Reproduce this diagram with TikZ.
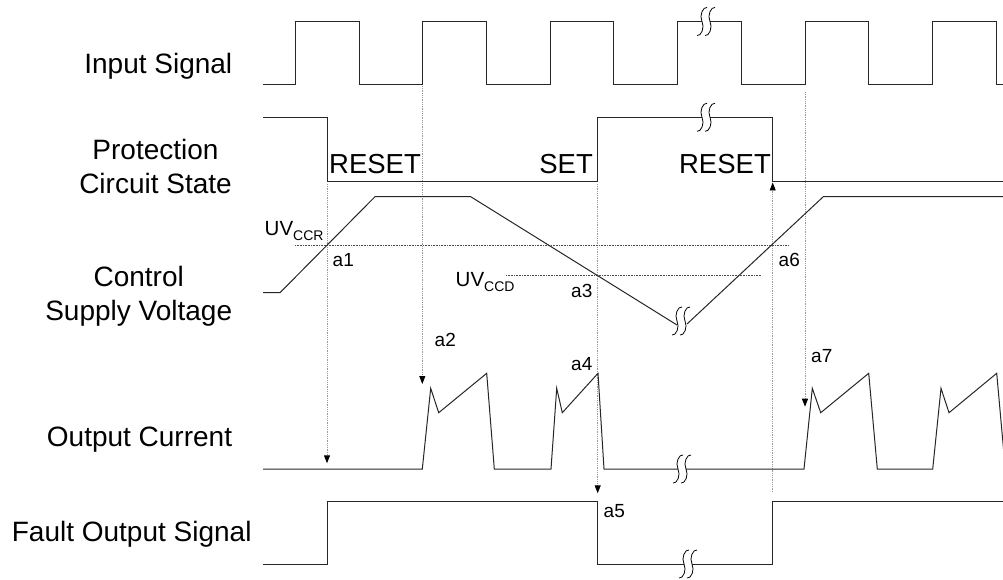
\documentclass[tikz,border=0pt]{standalone}
\usepackage{fontspec}
\setmainfont{Liberation Sans}
\usetikzlibrary{arrows.meta}
\begin{document}
\begin{tikzpicture}[x=1pt,y=-1pt,
  sig/.style={line width=1pt,draw=black!85,line join=miter},
  guide/.style={draw=black!40,line width=0.9pt,dash pattern=on 0.9pt off 0.9pt},
  thr/.style={draw=black!70,line width=0.8pt,dash pattern=on 0.8pt off 0.8pt},
  garrow/.style={guide,-{Triangle[length=8pt,width=6pt,color=black]}},
  big/.style={inner sep=0pt,font=\fontsize{28}{34}\selectfont},
  state/.style={inner sep=0pt,font=\fontsize{27.5}{34}\selectfont},
  small/.style={inner sep=0pt,font=\fontsize{19}{22}\selectfont},
  uvfont/.style={inner sep=0pt,font=\fontsize{20.5}{22}\selectfont},
  brk/.pic={
    \fill[white] (-4,-2.5) rectangle (4,2.5);
    \draw[line width=0.8pt,black] (1,-14) .. controls (-3,-15) and (-7,-6) .. (-4,0) .. controls (-1,6) and (-5,15) .. (-9,14);
    \draw[line width=0.8pt,black] (9,-14) .. controls (5,-15) and (1,-6) .. (4,0) .. controls (7,6) and (3,15) .. (-1,14);
  },
  brkv/.pic={
    \draw[line width=0.8pt,black] (1,-14) .. controls (-3,-15) and (-7,-6) .. (-4,0) .. controls (-1,6) and (-5,15) .. (-9,14);
    \draw[line width=0.8pt,black] (9,-14) .. controls (5,-15) and (1,-6) .. (4,0) .. controls (7,6) and (3,15) .. (-1,14);
  }
]
\useasboundingbox (0,0) rectangle (1003,580);

% ---------- guide lines ----------
\draw[garrow] (327,184) -- (327,463.3);
\draw[garrow] (422.3,86) -- (422.3,384);
\draw[garrow] (597.7,184) -- (597.7,493.3);
\draw[garrow] (772.7,492) -- (772.7,182.5);
\draw[garrow] (805,92) -- (805,406.7);
\draw[thr] (295,245) -- (789,245);
\draw[thr] (506,275.3) -- (761.7,275.3);

% ---------- Input signal ----------
\draw[sig] (263,85) -- (295.3,85) -- (295.3,21.5) -- (359,21.5) -- (359,85)
  -- (422.3,85) -- (422.3,21.5) -- (486.3,21.5) -- (486.3,85)
  -- (550,85) -- (550,21.5) -- (613.7,21.5) -- (613.7,85)
  -- (677.3,85) -- (677.3,21.5) -- (741,21.5) -- (741,85)
  -- (805,85) -- (805,21.5) -- (868.7,21.5) -- (868.7,85)
  -- (932.7,85) -- (932.7,21.5) -- (996.7,21.5) -- (996.7,85) -- (1010,85);
\pic at (706,21.5) {brk};

% ---------- Protection circuit state ----------
\draw[sig] (263,117.3) -- (327,117.3) -- (327,181.7) -- (597.7,181.7) -- (597.7,117.3)
  -- (772.7,117.3) -- (772.7,181.7) -- (1010,181.7);
\pic at (706,117.3) {brk};

% ---------- Control supply voltage ----------
\draw[sig] (263,292.7) -- (280,292.7) -- (375,196.7) -- (470.7,196.7) -- (677,325);
\draw[sig] (687,324) -- (823.3,196.7) -- (1010,196.7);
\pic at (681,321) {brkv};

% ---------- Output current ----------
\draw[sig] (263,469) -- (422.3,469) -- (430.7,388.3) -- (438.7,412.7) -- (486.7,373.3) -- (494.3,469)
  -- (551,469) -- (556.7,388.3) -- (562.3,412.7) -- (598,373.3) -- (604,469)
  -- (804,469) -- (812.3,388.3) -- (820.7,412.7) -- (868.7,373.3) -- (877.3,469)
  -- (932.7,469) -- (941,388.3) -- (949,412.7) -- (996.7,373.3) -- (1005.3,469);
\pic at (682,469) {brk};

% ---------- Fault output signal ----------
\draw[sig] (263,564) -- (327,564) -- (327,501) -- (597.7,501) -- (597.7,564)
  -- (772.7,564) -- (772.7,501) -- (1010,501);
\pic at (688,564) {brk};

% ---------- row labels ----------
\node[big,anchor=base] (lin) at (158.3,73.3) {Input Signal};
\node[big,anchor=base] (lprot) at (155.5,160) {\begin{tabular}[t]{@{}c@{}}Protection\\Circuit State\end{tabular}};
\node[big,anchor=base] (lvcc) at (138.7,286.7) {\begin{tabular}[t]{@{}c@{}}Control\\Supply Voltage\end{tabular}};
\node[big,anchor=base] (lcur) at (139.5,446.7) {Output Current};
\node[big,anchor=base] (lfo) at (131.7,541.7) {Fault Output Signal};

% ---------- state labels ----------
\node[state,anchor=base west] (reset1) at (329,173.3) {RESET};
\node[state,anchor=base east] (set) at (593,173.3) {SET};
\node[state,anchor=base east] (reset2) at (771,173.3) {RESET};

% ---------- thresholds ----------
\node[uvfont,anchor=base west] (uvccr) at (264.5,235) {UV{\fontsize{14}{14}\selectfont\raisebox{-5pt}{CCR}}};
\node[uvfont,anchor=base west] (uvccd) at (455.5,286) {UV{\fontsize{14}{14}\selectfont\raisebox{-5.5pt}{CCD}}};

% ---------- event labels ----------
\node[small,anchor=base west] (a1) at (332.5,266) {a1};
\node[small,anchor=base west] (a2) at (434.5,346) {a2};
\node[small,anchor=base west] (a3) at (571,297.3) {a3};
\node[small,anchor=base west] (a4) at (571,370) {a4};
\node[small,anchor=base west] (a5) at (603.5,517.3) {a5};
\node[small,anchor=base west] (a6) at (778.5,266.7) {a6};
\node[small,anchor=base west] (a7) at (811,362.7) {a7};
\end{tikzpicture}
\end{document}
